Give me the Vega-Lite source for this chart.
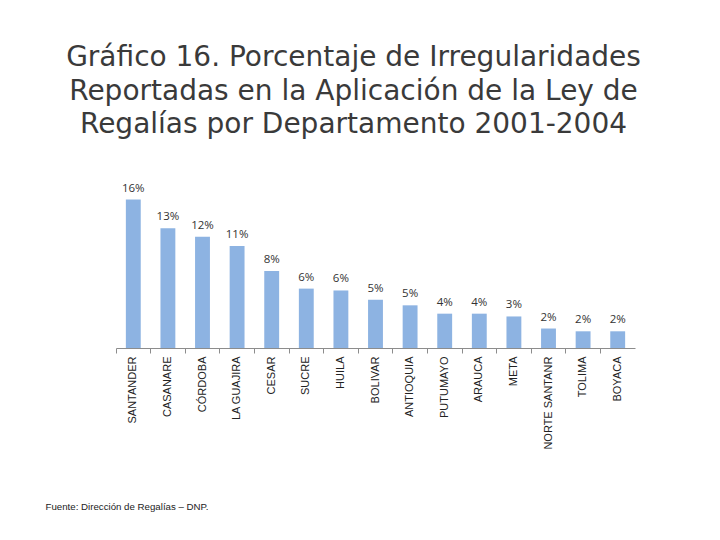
{
  "$schema": "https://vega.github.io/schema/vega-lite/v6.json",
  "autosize": "none",
  "width": 519,
  "height": 167,
  "padding": {"left": 116, "top": 181, "right": 85, "bottom": 192},
  "background": "white",
  "title": {
    "text": [
      "Gráfico 16. Porcentaje de Irregularidades",
      "Reportadas en la Aplicación de la Ley de",
      "Regalías por Departamento 2001-2004"
    ],
    "font": "DejaVu Sans",
    "fontSize": 28,
    "fontWeight": "normal",
    "color": "#3a3a3a",
    "lineHeight": 33.5,
    "anchor": "middle",
    "frame": "group",
    "baseline": "bottom",
    "dx": -22,
    "offset": 14
  },
  "data": {
    "values": [
      {"departamento": "SANTANDER", "pct": 0.160},
      {"departamento": "CASANARE", "pct": 0.129},
      {"departamento": "CÓRDOBA", "pct": 0.120},
      {"departamento": "LA GUAJIRA", "pct": 0.110},
      {"departamento": "CESAR", "pct": 0.083},
      {"departamento": "SUCRE", "pct": 0.064},
      {"departamento": "HUILA", "pct": 0.062},
      {"departamento": "BOLIVAR", "pct": 0.052},
      {"departamento": "ANTIOQUIA", "pct": 0.046},
      {"departamento": "PUTUMAYO", "pct": 0.037},
      {"departamento": "ARAUCA", "pct": 0.037},
      {"departamento": "META", "pct": 0.034},
      {"departamento": "NORTE  SANTANR", "pct": 0.021},
      {"departamento": "TOLIMA", "pct": 0.018},
      {"departamento": "BOYACA", "pct": 0.018}
    ]
  },
  "encoding": {
    "x": {
      "field": "departamento",
      "type": "nominal",
      "sort": null,
      "scale": {"paddingInner": 0, "paddingOuter": 0},
      "axis": {
        "title": "Fuente: Dirección de Regalías – DNP.",
        "titleFont": "Liberation Sans",
        "titleFontSize": 9.7,
        "titleFontWeight": "normal",
        "titleColor": "#222222",
        "titleAnchor": "start",
        "titleAlign": "left",
        "titleBaseline": "alphabetic",
        "titleX": -71,
        "titleY": 161,
        "labelAngle": -90,
        "labelAlign": "right",
        "labelBaseline": "middle",
        "labelFont": "Liberation Sans",
        "labelFontSize": 11,
        "labelColor": "#222222",
        "labelPadding": 3,
        "domainColor": "#8c8c8c",
        "tickColor": "#8c8c8c",
        "tickSize": 5,
        "bandPosition": 0,
        "grid": false
      }
    },
    "y": {
      "field": "pct",
      "type": "quantitative",
      "scale": {"domain": [0, 0.18]},
      "axis": null
    }
  },
  "layer": [
    {
      "mark": {"type": "bar", "color": "#8db3e2", "width": {"band": 0.43}}
    },
    {
      "mark": {
        "type": "text",
        "font": "Open Sans",
        "fontSize": 11.5,
        "color": "#333333",
        "baseline": "alphabetic",
        "dy": -8
      },
      "encoding": {
        "text": {"field": "pct", "type": "quantitative", "format": ".0%"}
      }
    }
  ],
  "config": {"view": {"stroke": null}}
}
